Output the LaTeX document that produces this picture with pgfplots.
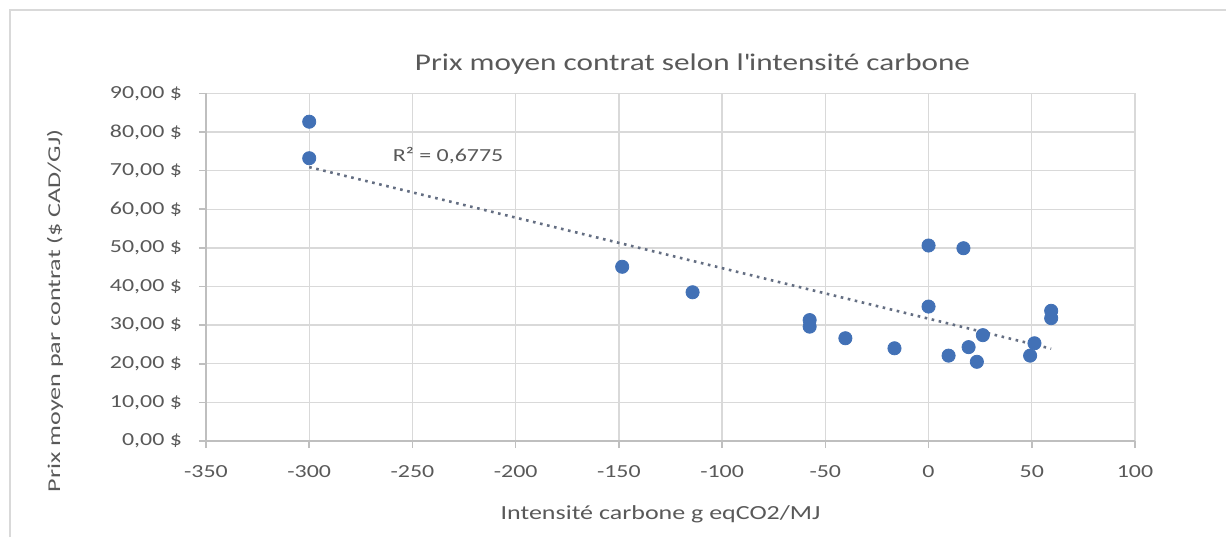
\documentclass[border=0pt]{standalone}
\usepackage{fontspec}
\usepackage{pgfplots}
\pgfplotsset{compat=1.18}
\setmainfont{Carlito}[FakeStretch=1.3]
\newfontfamily\ylabfont{Carlito}[FakeStretch=1.45]
\definecolor{txt}{RGB}{89,89,89}
\definecolor{gridc}{RGB}{217,217,217}
\definecolor{axc}{RGB}{191,191,191}
\definecolor{ptc}{RGB}{66,113,182}
\definecolor{trend}{RGB}{100,110,130}

\pgfplotstableread{
x y
-300 82.65
-300 73.2
-148.4 45.1
-114.3 38.5
-57.6 31.3
-57.6 29.6
-40.3 26.6
-16.5 24.0
0 50.6
16.9 49.9
0 34.8
9.7 22.1
19.4 24.3
23.4 20.5
26.3 27.4
49.2 22.1
51.3 25.3
59.4 33.7
59.4 31.8
}\datatable

\begin{document}
\begin{tikzpicture}
\useasboundingbox (0,0) rectangle (613pt,268.5pt);
\draw[gridc, line width=0.8pt] (5pt,0) -- (5pt,263.5pt) -- (613pt,263.5pt);
\begin{axis}[
  at={(103pt,48pt)}, anchor=south west,
  scale only axis, width=464.5pt, height=173.85pt,
  xmin=-350, xmax=100, ymin=0, ymax=90,
  xtick={-350,-300,...,100},
  xticklabels={-350,-300,-250,-200,-150,-100,-50,0,50,100},
  ytick={0,10,...,90},
  yticklabels={{0,00 \$},{10,00 \$},{20,00 \$},{30,00 \$},{40,00 \$},{50,00 \$},{60,00 \$},{70,00 \$},{80,00 \$},{90,00 \$}},
  axis lines=left,
  axis line style={-, axc, line width=0.8pt},
  grid=major,
  major grid style={gridc, line width=0.7pt},
  tick align=outside,
  major tick length=3.5pt,
  tick style={axc, line width=0.8pt},
  ticklabel style={font=\fontsize{9.2}{11}\selectfont, text=txt},
  xticklabel style={yshift=-5pt},
  yticklabel style={xshift=-5pt},
  title={Prix moyen contrat selon l\textquotesingle intensité carbone},
  title style={at={(rel axis cs:0.5237,1.050)}, anchor=center, font=\fontsize{12}{14}\selectfont, text=txt},
  xlabel={Intensité carbone g eqCO2/MJ},
  xlabel style={at={(rel axis cs:0.4893,-0.21)}, anchor=center, font=\fontsize{10}{12}\selectfont, text=txt},
  ylabel={Prix moyen par contrat (\$ CAD/GJ)},
  ylabel style={at={(rel axis cs:-0.1625,0.3747)}, anchor=center, rotate=0, font=\ylabfont\fontsize{9}{11}\selectfont, text=txt},
]
\addplot[trend, line width=1.3pt, dash pattern=on 1.3pt off 2.3pt] coordinates {(-300,70.9) (59.4,23.9)};
\addplot[only marks, mark=*, mark size=3.3pt, mark options={fill=ptc, draw=ptc}] table[x=x, y=y] {\datatable};
\node[text=txt, font=\fontsize{9.2}{11}\selectfont] at (axis cs:-232.7,73.9) {R² = 0,6775};
\end{axis}
\end{tikzpicture}
\end{document}
